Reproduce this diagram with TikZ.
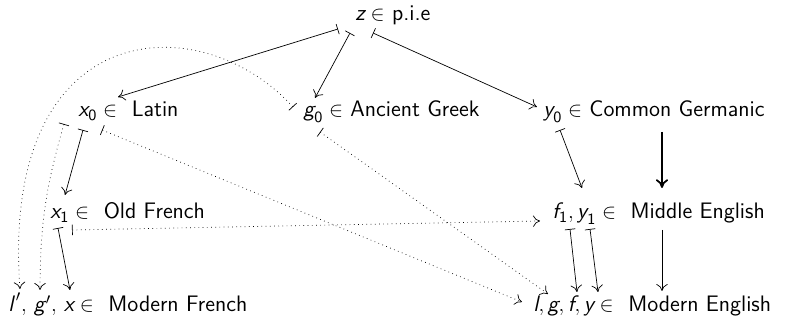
\documentclass[tikz,border=0pt]{standalone}
\usepackage{amsmath}
\usetikzlibrary{arrows.meta}
\newcommand{\mv}[1]{\textit{#1}}
\tikzset{
  lbl/.style={anchor=base west, inner sep=0pt, font=\fontsize{12.8}{15}\selectfont\sffamily},
  mt/.style={{Bar[width=6pt]}-{To[length=4pt,width=6.5pt]}},
  dmt/.style={mt, dotted},
  plain/.style={-{To[length=4pt,width=6.5pt]}},
  thickarr/.style={-{To[length=5pt,width=7pt]}, line width=1pt},
}
\begin{document}
\begin{tikzpicture}[x=0.5714pt, y=-0.5714pt, line width=0.4pt]
\useasboundingbox (0,0) rectangle (791,320);
% labels
\node[lbl] (z) at (355,21) {$\mv{z} \in$ p.i.e};
\node[lbl] (x0) at (78,117) {$\mv{x}_{\mathsf{0}} \in$\ \ Latin};
\node[lbl] (g0) at (303,117) {$\mv{g}_{\mathsf{0}} \in$ Ancient Greek};
\node[lbl] (y0) at (543,117) {$\mv{y}_{\mathsf{0}} \in$ Common Germanic};
\node[lbl] (x1) at (50,219) {$\mv{x}_{\mathsf{1}} \in$\ \ Old French};
\node[lbl] (me) at (552,219) {$\mv{f}_{\mathsf{1}}, \mv{y}_{\mathsf{1}} \in$\ \ Middle English};
\node[lbl] (mf) at (8,312) {${\mv{l}\mkern2mu}',\mkern3mu {\mv{g}\mkern1mu}',\mkern3mu \mv{x} \in$\ \ Modern French};
\node[lbl] (mE) at (533,312) {$\mv{l}, \mv{g}, \mv{f}, \mv{y} \in$\ \ Modern English};
% end points
\coordinate (zA) at (338,29);   \coordinate (x0T) at (118,97);
\coordinate (zB) at (350,33);   \coordinate (g0T) at (315,98);
\coordinate (zC) at (373,33);   \coordinate (y0T) at (537,107);
\coordinate (x0A) at (83,130);  \coordinate (x1T) at (65,195);
\coordinate (x0B) at (64,124);  \coordinate (gpT) at (40,290);
\coordinate (x0C) at (102,130); \coordinate (lT) at (522,302);
\coordinate (g0A) at (293,107); \coordinate (lpT) at (20,289);
\coordinate (g0B) at (320,132); \coordinate (gT) at (548,294);
\coordinate (y0A) at (560,130); \coordinate (f1T) at (582,188);
\coordinate (cgA) at (662,132); \coordinate (meT) at (662,188);
\coordinate (x1A) at (58,228);  \coordinate (xT) at (70,290);
\coordinate (x1B) at (72,230);  \coordinate (f1dT) at (540,221);
\coordinate (f1A) at (570,229); \coordinate (fT) at (577,292);
\coordinate (y1A) at (590,229); \coordinate (yT) at (598,292);
\coordinate (meA) at (662,230); \coordinate (mEngT) at (662,291);
% arrows
\draw[mt] (zA) -- (x0T);
\draw[mt] (zB) -- (g0T);
\draw[mt] (zC) -- (y0T);
\draw[mt] (x0A) -- (x1T);
\draw[dmt] (x0B) to[bend right=8] (gpT);
\draw[dmt] (x0C) -- (lT);
\draw[dmt] (g0A) .. controls (200,5) and (0,15) .. (lpT);
\draw[dmt] (g0B) -- (gT);
\draw[mt] (y0A) -- (f1T);
\draw[thickarr] (cgA) -- (meT);
\draw[mt] (x1A) -- (xT);
\draw[dmt] (x1B) -- (f1dT);
\draw[mt] (f1A) -- (fT);
\draw[mt] (y1A) -- (yT);
\draw[plain] (meA) -- (mEngT);
\end{tikzpicture}
\end{document}
